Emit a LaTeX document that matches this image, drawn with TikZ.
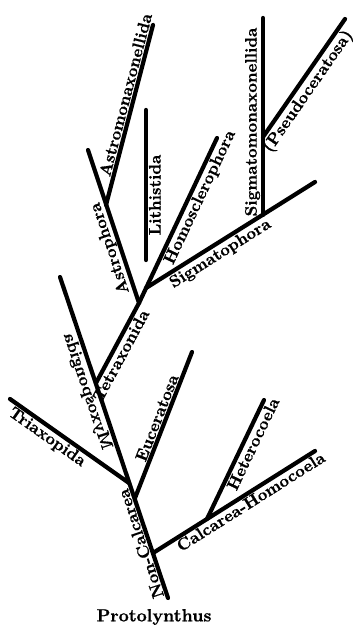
\documentclass[tikz,border=0pt]{standalone}
\usepackage{fontspec}
\usetikzlibrary{positioning, calc}
\newfontfamily\taxfont[FakeBold=0.8]{lmroman10-bold.otf}

\begin{document}
\begin{tikzpicture}[
		x=0.02cm, y=-0.02cm,
		branch/.style={line width=2.4pt, line cap=round},
		taxon/.style={font=\taxfont\fontsize{9.5}{11}\selectfont, inner sep=1.5pt},
		rootname/.style={font=\taxfont\fontsize{10}{12}\selectfont, inner sep=0pt}
		]
		\useasboundingbox (0,0) rectangle (357,628);
		
		% --- Main stem (Non-Calcarea -> Myxospongida) ---
		\coordinate (base) at (168, 598);
		\coordinate (apex) at (60, 277);
		\coordinate (tri) at (129, 483);
		\coordinate (euc) at (135, 498);
		\coordinate (cal) at (153, 553);
		\coordinate (tet) at (96, 383);
		
		% --- Branch tips ---
		\coordinate (triend) at (10, 399);
		\coordinate (eucend) at (192, 352);
		\coordinate (calend) at (315, 451);
		\coordinate (het) at (207, 519);
		\coordinate (hetend) at (264, 400);
		
		% --- Tetraxonida fork ---
		\coordinate (tetnode) at (139, 303);
		\coordinate (astend) at (88, 150);
		\coordinate (astm) at (106, 205);
		\coordinate (astmend) at (153, 25);
		\coordinate (lithlow) at (146, 260);
		\coordinate (lithtop) at (146, 110);
		\coordinate (homend) at (217, 138);
		\coordinate (sig) at (146, 288);
		\coordinate (sigend) at (315, 182);
		\coordinate (sigm) at (263, 215);
		\coordinate (sigmend) at (263, 18);
		\coordinate (pse) at (263, 137);
		\coordinate (pseend) at (345, 19);
		
		% Draw the branches
		\draw[branch] (base) -- (apex);
		\draw[branch] (tri) -- (triend);
		\draw[branch] (euc) -- (eucend);
		\draw[branch] (cal) -- (calend);
		\draw[branch] (het) -- (hetend);
		\draw[branch] (tet) -- (tetnode) -- (astend);
		\draw[branch] (astm) -- (astmend);
		\draw[branch] (lithlow) -- (lithtop);
		\draw[branch] (tetnode) -- (homend);
		\draw[branch] (sig) -- (sigend);
		\draw[branch] (sigm) -- (sigmend);
		\draw[branch] (pse) -- (pseend);
		
		% Labels along the branches
		\node[taxon, rotate=108.6, anchor=south] (noncal) at (149, 541) {Non-Calcarea};
		\node[taxon, rotate=-35.2, anchor=north] (triax) at (53, 429) {Triaxopida};
		\node[taxon, rotate=108.6, yscale=-1, anchor=north] (myxo) at (97, 388) {Myxospongida};
		\node[taxon, rotate=61.7, anchor=north] (tetra) at (113, 351) {Tetraxonida};
		\node[taxon, rotate=68.7, anchor=south] (eucer) at (165, 421) {Euceratosa};
		\node[taxon, rotate=32.2, anchor=north] (calho) at (246, 494) {Calcarea-Homocoela};
		\node[taxon, rotate=64.4, anchor=north] (hetero) at (245, 440) {Heterocoela};
		\node[taxon, rotate=108.4, anchor=south] (astro) at (120, 245) {Astrophora};
		\node[taxon, rotate=75.4, anchor=south] (astromon) at (134, 97) {Astromonaxonellida};
		\node[taxon, rotate=90, anchor=north] (lith) at (146, 195) {Lithistida};
		\node[taxon, rotate=64.7, anchor=north] (homo) at (191, 193) {Homosclerophora};
		\node[taxon, rotate=32.1, anchor=north] (sigma) at (215, 245) {Sigmatophora};
		\node[taxon, rotate=90, anchor=south] (sigmamon) at (263, 122) {Sigmatomonaxonellida};
		\node[taxon, rotate=55.2, anchor=north] (pseudo) at (299, 85) {(Pseudoceratosa)};
		
		% The ancestral form
		\node[rootname] (proto) at (154, 617) {Protolynthus};
		
	\end{tikzpicture}
\end{document}
